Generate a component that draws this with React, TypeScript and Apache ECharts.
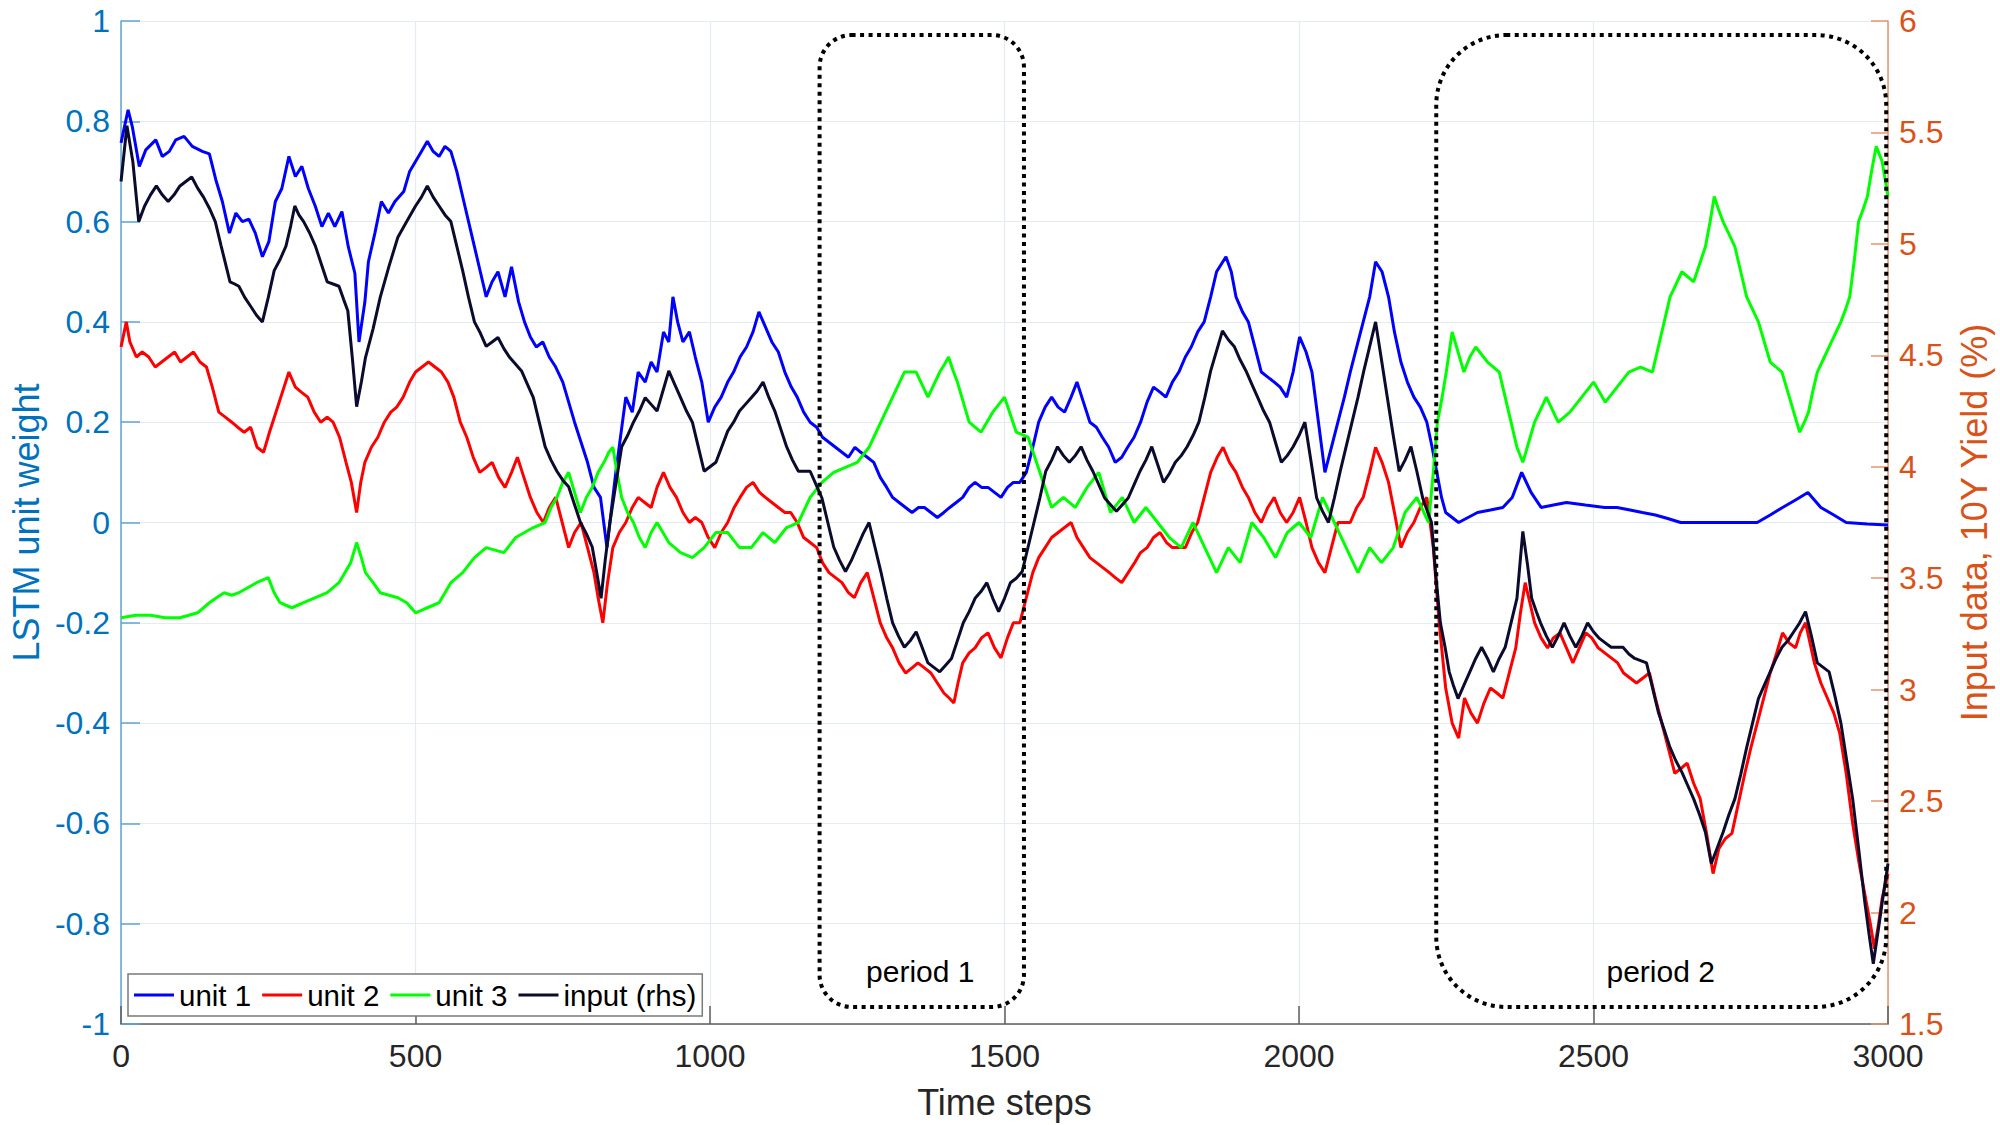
import React, { useEffect, useRef } from "react";
import * as echarts from "echarts";

// Time steps 0..3000 ; x ticks every 500
const xTickInterval = 500;
const leftTickInterval = 0.2;
const rightTickInterval = 0.5;

const seriesNames = ["unit 1", "unit 2", "unit 3", "input (rhs)"];

// unit 1 (left axis) [time, weight]
const unit1: [number, number][] = [
  [0, 0.757], [12, 0.823], [19, 0.79], [31, 0.71], [42, 0.743], [59, 0.763], [70, 0.73], [82, 0.74], [93, 0.763],
  [107, 0.77], [121, 0.75], [138, 0.74], [150, 0.735], [161, 0.683], [172, 0.64], [184, 0.577], [195, 0.617],
  [206, 0.6], [217, 0.605], [228, 0.577], [240, 0.53], [251, 0.56], [262, 0.64], [273, 0.666], [285, 0.73],
  [296, 0.69], [307, 0.71], [318, 0.666], [330, 0.63], [341, 0.59], [352, 0.617], [363, 0.59], [375, 0.62],
  [386, 0.549], [397, 0.497], [404, 0.36], [414, 0.44], [420, 0.52], [431, 0.577], [442, 0.64], [454, 0.617],
  [465, 0.64], [480, 0.66], [490, 0.7], [500, 0.72], [510, 0.74], [520, 0.76], [530, 0.74], [540, 0.73],
  [550, 0.75], [560, 0.74], [570, 0.7], [580, 0.65], [590, 0.6], [600, 0.55], [610, 0.5], [620, 0.45],
  [630, 0.48], [640, 0.5], [652, 0.45], [663, 0.51], [675, 0.44], [685, 0.4], [695, 0.37], [705, 0.35],
  [716, 0.36], [727, 0.33], [738, 0.31], [750, 0.28], [760, 0.24], [770, 0.2], [781, 0.16], [792, 0.12],
  [803, 0.07], [814, 0.05], [825, -0.05], [840, 0.1], [857, 0.25], [868, 0.22], [878, 0.3], [890, 0.28],
  [900, 0.32], [910, 0.3], [921, 0.38], [930, 0.36], [937, 0.45], [945, 0.4], [954, 0.36], [965, 0.38],
  [975, 0.33], [986, 0.28], [997, 0.2], [1008, 0.23], [1019, 0.25], [1030, 0.28], [1040, 0.3], [1051, 0.33],
  [1062, 0.35], [1073, 0.38], [1083, 0.42], [1094, 0.39], [1105, 0.36], [1116, 0.34], [1127, 0.3],
  [1138, 0.27], [1148, 0.25], [1159, 0.22], [1170, 0.2], [1181, 0.19], [1191, 0.17], [1202, 0.16], [1213, 0.15],
  [1224, 0.14], [1235, 0.13], [1246, 0.15], [1256, 0.14], [1267, 0.13], [1278, 0.12], [1289, 0.09], [1300, 0.07],
  [1310, 0.05], [1321, 0.04], [1332, 0.03], [1343, 0.02], [1354, 0.03], [1364, 0.03], [1375, 0.02], [1386, 0.01],
  [1397, 0.02], [1407, 0.03], [1418, 0.04], [1429, 0.05], [1440, 0.07], [1450, 0.08], [1461, 0.07], [1472, 0.07],
  [1483, 0.06], [1494, 0.05], [1505, 0.07], [1515, 0.08], [1526, 0.08], [1537, 0.1], [1548, 0.15], [1558, 0.2],
  [1569, 0.23], [1580, 0.25], [1591, 0.23], [1602, 0.22], [1613, 0.25], [1623, 0.28], [1634, 0.24], [1645, 0.2],
  [1656, 0.19], [1666, 0.17], [1677, 0.15], [1688, 0.12], [1699, 0.13], [1709, 0.15], [1720, 0.17], [1731, 0.2],
  [1742, 0.24], [1753, 0.27], [1764, 0.26], [1774, 0.25], [1785, 0.28], [1796, 0.3], [1807, 0.33], [1817, 0.35],
  [1828, 0.38], [1839, 0.4], [1850, 0.45], [1860, 0.5], [1876, 0.53], [1885, 0.5], [1893, 0.45], [1904, 0.42],
  [1914, 0.4], [1925, 0.35], [1936, 0.3], [1947, 0.29], [1958, 0.28], [1968, 0.27], [1979, 0.25], [1990, 0.3],
  [2001, 0.37], [2012, 0.34], [2022, 0.3], [2033, 0.2], [2044, 0.1], [2055, 0.15], [2066, 0.2], [2077, 0.25],
  [2087, 0.3], [2098, 0.35], [2109, 0.4], [2120, 0.45], [2130, 0.52], [2141, 0.5], [2152, 0.45], [2162, 0.38],
  [2173, 0.32], [2184, 0.28], [2195, 0.25], [2206, 0.23], [2217, 0.2], [2226, 0.15], [2234, 0.1], [2242, 0.05],
  [2249, 0.02], [2260, 0.01], [2271, 0.0], [2287, 0.01], [2303, 0.02], [2325, 0.025], [2346, 0.03], [2362, 0.05],
  [2378, 0.1], [2394, 0.06], [2411, 0.03], [2432, 0.035], [2454, 0.04], [2486, 0.035], [2519, 0.03], [2540, 0.03],
  [2562, 0.025], [2583, 0.02], [2605, 0.015], [2626, 0.008], [2648, 0.0], [2680, 0.0], [2713, 0.0], [2745, 0.0],
  [2778, 0.0], [2800, 0.015], [2821, 0.03], [2843, 0.045], [2864, 0.06], [2875, 0.045], [2886, 0.03], [2908, 0.015],
  [2929, 0.0], [2965, -0.003], [3000, -0.005],
];

// unit 2 (left axis)
const unit2: [number, number][] = [
  [0, 0.35], [9, 0.4], [15, 0.36], [26, 0.33], [36, 0.34], [47, 0.33], [58, 0.31], [69, 0.32], [80, 0.33],
  [91, 0.34], [101, 0.32], [112, 0.33], [123, 0.34], [134, 0.32], [145, 0.31], [155, 0.27], [166, 0.22],
  [177, 0.21], [188, 0.2], [198, 0.19], [209, 0.18], [220, 0.19], [231, 0.15], [242, 0.14], [252, 0.18],
  [263, 0.22], [274, 0.26], [285, 0.3], [296, 0.27], [306, 0.26], [317, 0.25], [328, 0.22], [339, 0.2],
  [350, 0.21], [360, 0.2], [371, 0.17], [382, 0.12], [391, 0.08], [400, 0.02], [407, 0.08], [414, 0.12],
  [425, 0.15], [436, 0.17], [447, 0.2], [458, 0.22], [468, 0.23], [479, 0.25], [490, 0.28], [500, 0.3],
  [511, 0.31], [522, 0.32], [533, 0.31], [544, 0.3], [555, 0.28], [565, 0.25], [576, 0.2], [587, 0.17],
  [598, 0.13], [609, 0.1], [620, 0.11], [630, 0.12], [641, 0.09], [652, 0.07], [663, 0.1], [673, 0.13],
  [684, 0.09], [695, 0.05], [706, 0.02], [717, 0.0], [727, 0.03], [738, 0.05], [749, 0.0], [760, -0.05],
  [770, -0.02], [781, 0.0], [792, -0.05], [803, -0.1], [810, -0.15], [818, -0.2], [826, -0.12], [835, -0.05],
  [846, -0.02], [857, 0.0], [868, 0.03], [878, 0.05], [889, 0.04], [900, 0.03], [910, 0.07], [921, 0.1],
  [932, 0.07], [943, 0.05], [954, 0.02], [965, 0.0], [975, 0.01], [986, 0.0], [997, -0.03], [1008, -0.05],
  [1019, -0.02], [1030, 0.0], [1041, 0.03], [1051, 0.05], [1062, 0.07], [1073, 0.08], [1084, 0.06], [1094, 0.05],
  [1105, 0.04], [1116, 0.03], [1127, 0.02], [1137, 0.02], [1148, 0.0], [1159, -0.03], [1170, -0.04], [1181, -0.05],
  [1191, -0.08], [1202, -0.1], [1213, -0.11], [1224, -0.12], [1235, -0.14], [1245, -0.15], [1256, -0.12],
  [1267, -0.1], [1278, -0.15], [1289, -0.2], [1300, -0.23], [1310, -0.25], [1321, -0.28], [1332, -0.3],
  [1343, -0.29], [1353, -0.28], [1364, -0.29], [1375, -0.3], [1386, -0.32], [1397, -0.34], [1406, -0.35],
  [1414, -0.36], [1421, -0.32], [1429, -0.28], [1440, -0.26], [1450, -0.25], [1461, -0.23], [1472, -0.22],
  [1483, -0.25], [1494, -0.27], [1505, -0.23], [1515, -0.2], [1526, -0.2], [1537, -0.15], [1548, -0.1],
  [1558, -0.07], [1569, -0.05], [1580, -0.03], [1591, -0.02], [1602, -0.01], [1613, 0.0], [1623, -0.03],
  [1634, -0.05], [1645, -0.07], [1656, -0.08], [1667, -0.09], [1678, -0.1], [1688, -0.11], [1699, -0.12],
  [1710, -0.1], [1721, -0.08], [1731, -0.06], [1742, -0.05], [1753, -0.03], [1764, -0.02], [1775, -0.04],
  [1785, -0.05], [1796, -0.05], [1807, -0.05], [1818, -0.02], [1828, 0.0], [1839, 0.05], [1850, 0.1],
  [1861, 0.13], [1871, 0.15], [1882, 0.12], [1893, 0.1], [1904, 0.07], [1914, 0.05], [1925, 0.02], [1936, 0.0],
  [1947, 0.03], [1958, 0.05], [1968, 0.02], [1979, 0.0], [1990, 0.02], [2001, 0.05], [2012, 0.0], [2022, -0.05],
  [2033, -0.08], [2044, -0.1], [2055, -0.05], [2066, 0.0], [2077, 0.0], [2087, 0.0], [2098, 0.03], [2109, 0.05],
  [2120, 0.1], [2130, 0.15], [2141, 0.12], [2152, 0.08], [2162, 0.02], [2173, -0.05], [2184, -0.02], [2195, 0.0],
  [2206, 0.03], [2217, 0.05], [2228, -0.05], [2238, -0.2], [2249, -0.33], [2260, -0.4], [2271, -0.43],
  [2281, -0.35], [2292, -0.38], [2303, -0.4], [2314, -0.36], [2325, -0.33], [2336, -0.34], [2346, -0.35],
  [2357, -0.3], [2368, -0.25], [2376, -0.18], [2384, -0.12], [2392, -0.16], [2400, -0.2], [2411, -0.23],
  [2422, -0.25], [2432, -0.23], [2443, -0.22], [2454, -0.25], [2465, -0.28], [2476, -0.25], [2487, -0.22],
  [2497, -0.23], [2508, -0.25], [2519, -0.26], [2530, -0.27], [2541, -0.28], [2551, -0.3], [2562, -0.31],
  [2573, -0.32], [2584, -0.31], [2595, -0.3], [2605, -0.35], [2616, -0.4], [2627, -0.45], [2638, -0.5],
  [2649, -0.49], [2659, -0.48], [2670, -0.52], [2681, -0.55], [2692, -0.62], [2703, -0.7], [2713, -0.65],
  [2724, -0.63], [2735, -0.62], [2746, -0.56], [2757, -0.5], [2767, -0.45], [2778, -0.4], [2789, -0.35],
  [2800, -0.3], [2811, -0.26], [2821, -0.22], [2832, -0.24], [2843, -0.25], [2851, -0.22], [2860, -0.2],
  [2875, -0.28], [2886, -0.32], [2897, -0.35], [2908, -0.38], [2918, -0.42], [2929, -0.5], [2940, -0.6],
  [2951, -0.68], [2962, -0.75], [2970, -0.8], [2977, -0.85], [2984, -0.8], [2990, -0.75], [3000, -0.7],
];

// unit 3 (left axis)
const unit3: [number, number][] = [
  [0, -0.19], [25, -0.185], [50, -0.185], [75, -0.19], [100, -0.19], [115, -0.185], [130, -0.18], [150, -0.16],
  [162, -0.15], [175, -0.14], [188, -0.145], [200, -0.14], [215, -0.13], [230, -0.12], [250, -0.11], [260, -0.14],
  [270, -0.16], [280, -0.165], [290, -0.17], [300, -0.165], [310, -0.16], [320, -0.155], [330, -0.15],
  [340, -0.145], [350, -0.14], [360, -0.13], [370, -0.12], [380, -0.1], [390, -0.08], [400, -0.04], [408, -0.07],
  [415, -0.1], [428, -0.12], [440, -0.14], [455, -0.145], [470, -0.15], [485, -0.16], [500, -0.18], [510, -0.175],
  [520, -0.17], [530, -0.165], [540, -0.16], [550, -0.14], [560, -0.12], [570, -0.11], [580, -0.1], [590, -0.085],
  [600, -0.07], [610, -0.06], [620, -0.05], [635, -0.055], [650, -0.06], [660, -0.045], [670, -0.03],
  [685, -0.02], [700, -0.01], [710, -0.005], [720, 0.0], [730, 0.03], [740, 0.05], [750, 0.08], [760, 0.1],
  [770, 0.06], [780, 0.02], [790, 0.05], [800, 0.07], [810, 0.1], [820, 0.12], [828, 0.14], [835, 0.15],
  [842, 0.1], [850, 0.05], [860, 0.02], [870, 0.0], [880, -0.03], [890, -0.05], [900, -0.02], [910, 0.0],
  [920, -0.02], [930, -0.04], [940, -0.05], [950, -0.06], [960, -0.065], [970, -0.07], [980, -0.06],
  [990, -0.05], [1000, -0.035], [1010, -0.02], [1020, -0.02], [1030, -0.02], [1040, -0.035], [1050, -0.05],
  [1060, -0.05], [1070, -0.05], [1080, -0.035], [1090, -0.02], [1100, -0.03], [1110, -0.04], [1120, -0.025],
  [1130, -0.01], [1140, -0.005], [1150, 0.0], [1160, 0.025], [1170, 0.05], [1180, 0.065], [1190, 0.08],
  [1200, 0.09], [1210, 0.1], [1220, 0.105], [1230, 0.11], [1240, 0.115], [1250, 0.12], [1260, 0.135],
  [1270, 0.15], [1280, 0.175], [1290, 0.2], [1300, 0.225], [1310, 0.25], [1320, 0.275], [1330, 0.3],
  [1340, 0.3], [1350, 0.3], [1360, 0.275], [1370, 0.25], [1380, 0.275], [1390, 0.3], [1398, 0.315],
  [1405, 0.33], [1412, 0.305], [1420, 0.28], [1430, 0.24], [1440, 0.2], [1450, 0.19], [1460, 0.18],
  [1470, 0.2], [1480, 0.22], [1490, 0.235], [1500, 0.25], [1510, 0.215], [1520, 0.18], [1530, 0.175],
  [1540, 0.17], [1550, 0.135], [1560, 0.1], [1570, 0.065], [1580, 0.03], [1590, 0.04], [1600, 0.05],
  [1610, 0.04], [1620, 0.03], [1630, 0.05], [1640, 0.07], [1650, 0.085], [1660, 0.1], [1670, 0.06],
  [1680, 0.02], [1690, 0.035], [1700, 0.05], [1710, 0.025], [1720, 0.0], [1730, 0.015], [1740, 0.03],
  [1750, 0.015], [1760, 0.0], [1770, -0.015], [1780, -0.03], [1790, -0.04], [1800, -0.05], [1810, -0.025],
  [1820, 0.0], [1830, -0.025], [1840, -0.05], [1850, -0.075], [1860, -0.1], [1870, -0.075], [1880, -0.05],
  [1890, -0.065], [1900, -0.08], [1910, -0.04], [1920, 0.0], [1930, -0.015], [1940, -0.03], [1950, -0.05],
  [1960, -0.07], [1970, -0.045], [1980, -0.02], [1990, -0.01], [2000, 0.0], [2010, -0.015], [2020, -0.03],
  [2030, 0.01], [2040, 0.05], [2050, 0.025], [2060, 0.0], [2070, -0.025], [2080, -0.05], [2090, -0.075],
  [2100, -0.1], [2110, -0.075], [2120, -0.05], [2130, -0.065], [2140, -0.08], [2150, -0.065], [2160, -0.05],
  [2170, -0.015], [2180, 0.02], [2190, 0.035], [2200, 0.05], [2210, 0.025], [2220, 0.0], [2228, 0.1],
  [2235, 0.2], [2243, 0.25], [2250, 0.3], [2260, 0.38], [2270, 0.34], [2280, 0.3], [2290, 0.33], [2300, 0.35],
  [2310, 0.335], [2320, 0.32], [2330, 0.31], [2340, 0.3], [2350, 0.25], [2360, 0.2], [2370, 0.15], [2380, 0.12],
  [2390, 0.16], [2400, 0.2], [2410, 0.225], [2420, 0.25], [2430, 0.225], [2440, 0.2], [2450, 0.21], [2460, 0.22],
  [2470, 0.235], [2480, 0.25], [2490, 0.265], [2500, 0.28], [2510, 0.26], [2520, 0.24], [2530, 0.255],
  [2540, 0.27], [2550, 0.285], [2560, 0.3], [2570, 0.305], [2580, 0.31], [2590, 0.305], [2600, 0.3],
  [2610, 0.35], [2620, 0.4], [2630, 0.45], [2640, 0.475], [2650, 0.5], [2660, 0.49], [2670, 0.48],
  [2680, 0.515], [2690, 0.55], [2698, 0.6], [2705, 0.65], [2712, 0.625], [2720, 0.6], [2730, 0.575],
  [2740, 0.55], [2750, 0.5], [2760, 0.45], [2770, 0.425], [2780, 0.4], [2790, 0.36], [2800, 0.32],
  [2810, 0.31], [2820, 0.3], [2830, 0.26], [2840, 0.22], [2850, 0.18], [2858, 0.2], [2865, 0.22],
  [2872, 0.26], [2880, 0.3], [2890, 0.325], [2900, 0.35], [2910, 0.375], [2920, 0.4], [2928, 0.425],
  [2935, 0.45], [2943, 0.525], [2950, 0.6], [2958, 0.625], [2965, 0.65], [2972, 0.7], [2980, 0.75],
  [2985, 0.735], [2990, 0.72], [2995, 0.685], [3000, 0.65],
];

// input: 10Y yield (%) on right axis
const inputYield: [number, number][] = [
  [0, 5.28], [10, 5.53], [20, 5.37], [30, 5.1], [40, 5.17], [50, 5.22], [60, 5.26], [70, 5.22], [80, 5.19],
  [90, 5.22], [100, 5.26], [110, 5.28], [120, 5.3], [130, 5.25], [140, 5.21], [150, 5.16], [160, 5.1],
  [170, 4.99], [185, 4.83], [193, 4.82], [200, 4.81], [210, 4.76], [220, 4.72], [230, 4.68], [240, 4.65],
  [250, 4.76], [260, 4.88], [270, 4.93], [280, 4.99], [288, 5.08], [295, 5.17], [302, 5.13], [310, 5.1],
  [320, 5.05], [330, 4.99], [340, 4.91], [350, 4.83], [360, 4.82], [370, 4.81], [378, 4.75], [385, 4.7],
  [393, 4.48], [400, 4.27], [408, 4.38], [415, 4.49], [428, 4.62], [440, 4.76], [455, 4.9], [470, 5.03],
  [485, 5.1], [500, 5.17], [510, 5.21], [520, 5.26], [530, 5.21], [540, 5.17], [550, 5.13], [560, 5.1],
  [570, 4.99], [580, 4.88], [590, 4.76], [600, 4.65], [610, 4.6], [620, 4.54], [630, 4.56], [640, 4.58],
  [650, 4.53], [660, 4.49], [670, 4.46], [680, 4.43], [690, 4.37], [700, 4.31], [710, 4.2], [720, 4.09],
  [730, 4.03], [740, 3.98], [750, 3.94], [760, 3.91], [770, 3.83], [780, 3.75], [790, 3.7], [800, 3.64],
  [808, 3.52], [815, 3.41], [822, 3.58], [830, 3.75], [840, 3.92], [850, 4.09], [860, 4.14], [870, 4.2],
  [880, 4.25], [890, 4.31], [900, 4.28], [910, 4.25], [920, 4.34], [930, 4.43], [940, 4.37], [950, 4.31],
  [960, 4.25], [970, 4.2], [980, 4.09], [990, 3.98], [1000, 4.0], [1010, 4.02], [1020, 4.09], [1030, 4.16],
  [1040, 4.2], [1050, 4.25], [1060, 4.28], [1070, 4.31], [1080, 4.34], [1090, 4.38], [1100, 4.31],
  [1110, 4.25], [1120, 4.17], [1130, 4.09], [1140, 4.03], [1150, 3.98], [1160, 3.98], [1170, 3.98],
  [1180, 3.92], [1190, 3.86], [1200, 3.75], [1210, 3.64], [1220, 3.58], [1230, 3.53], [1240, 3.58],
  [1250, 3.64], [1260, 3.7], [1270, 3.75], [1280, 3.64], [1290, 3.53], [1300, 3.41], [1310, 3.3],
  [1320, 3.24], [1330, 3.19], [1340, 3.22], [1350, 3.26], [1360, 3.19], [1370, 3.12], [1380, 3.1],
  [1390, 3.08], [1400, 3.11], [1410, 3.14], [1420, 3.22], [1430, 3.3], [1440, 3.35], [1450, 3.41],
  [1460, 3.44], [1470, 3.48], [1480, 3.41], [1490, 3.35], [1500, 3.41], [1510, 3.48], [1520, 3.5],
  [1530, 3.53], [1540, 3.64], [1550, 3.75], [1560, 3.86], [1570, 3.98], [1580, 4.03], [1590, 4.09],
  [1600, 4.05], [1610, 4.02], [1620, 4.05], [1630, 4.09], [1640, 4.03], [1650, 3.98], [1660, 3.92],
  [1670, 3.86], [1680, 3.83], [1690, 3.8], [1700, 3.83], [1710, 3.86], [1720, 3.92], [1730, 3.98],
  [1740, 4.03], [1750, 4.09], [1760, 4.01], [1770, 3.93], [1780, 3.97], [1790, 4.02], [1800, 4.05],
  [1810, 4.09], [1820, 4.14], [1830, 4.2], [1840, 4.31], [1850, 4.43], [1860, 4.52], [1870, 4.61],
  [1880, 4.57], [1890, 4.54], [1900, 4.48], [1910, 4.43], [1920, 4.37], [1930, 4.31], [1940, 4.25],
  [1950, 4.2], [1960, 4.11], [1970, 4.02], [1980, 4.05], [1990, 4.09], [2000, 4.14], [2010, 4.2],
  [2020, 4.03], [2030, 3.86], [2040, 3.8], [2050, 3.75], [2060, 3.86], [2070, 3.98], [2080, 4.09],
  [2090, 4.2], [2100, 4.31], [2110, 4.43], [2120, 4.54], [2130, 4.65], [2140, 4.48], [2150, 4.31],
  [2160, 4.14], [2170, 3.98], [2180, 4.03], [2190, 4.09], [2200, 3.98], [2210, 3.86], [2218, 3.8],
  [2225, 3.75], [2232, 3.52], [2240, 3.3], [2248, 3.19], [2255, 3.08], [2262, 3.02], [2270, 2.96],
  [2280, 3.02], [2290, 3.08], [2300, 3.14], [2310, 3.19], [2320, 3.14], [2330, 3.08], [2340, 3.14],
  [2350, 3.19], [2360, 3.3], [2370, 3.41], [2375, 3.56], [2380, 3.71], [2388, 3.56], [2395, 3.41],
  [2403, 3.35], [2410, 3.3], [2420, 3.24], [2430, 3.19], [2440, 3.24], [2450, 3.3], [2460, 3.24],
  [2470, 3.19], [2480, 3.24], [2490, 3.3], [2500, 3.26], [2510, 3.23], [2520, 3.21], [2530, 3.19],
  [2540, 3.19], [2550, 3.19], [2560, 3.16], [2570, 3.14], [2580, 3.13], [2590, 3.12], [2600, 3.01],
  [2610, 2.9], [2620, 2.82], [2630, 2.74], [2640, 2.68], [2650, 2.63], [2660, 2.57], [2670, 2.51],
  [2680, 2.44], [2690, 2.36], [2700, 2.22], [2710, 2.29], [2720, 2.36], [2730, 2.44], [2740, 2.51],
  [2750, 2.62], [2760, 2.74], [2770, 2.85], [2780, 2.96], [2790, 3.02], [2800, 3.08], [2810, 3.14],
  [2820, 3.19], [2830, 3.22], [2840, 3.26], [2850, 3.3], [2860, 3.35], [2870, 3.24], [2880, 3.12],
  [2890, 3.1], [2900, 3.08], [2910, 2.97], [2920, 2.85], [2930, 2.68], [2940, 2.51], [2950, 2.29],
  [2960, 2.06], [2968, 1.9], [2975, 1.77], [2980, 1.86], [2985, 1.95], [2992, 2.08], [3000, 2.22],
];

// annotated periods: [start time, end time, bottom weight, top weight]
const periodLabels = ["period 1", "period 2"];
const periodBoxes: [number, number, number, number][] = [
  [1186, 1533, -0.966, 0.972],
  [2233, 2997, -0.966, 0.972],
];
const periodLabelPos: [number, number][] = [
  [1357, -0.896],
  [2614, -0.896],
];
const periodRadius = [32, 70];

const FONT = "'Liberation Sans', Arial, Helvetica, sans-serif";
const LEFT_COLOR = "#0072BD";
const RIGHT_COLOR = "#D95319";
const GRID_COLOR = "#e6ebf1";
const colors = ["#0000FF", "#FF0000", "#00FF00", "#0b0b2e"];

export default function App() {
  const ref = useRef<HTMLDivElement>(null);
  useEffect(() => {
    document.body.style.margin = "0";
    const chart = echarts.init(ref.current!, null, { renderer: "svg" });
    const lineSeries = (name: string, data: [number, number][], color: string, yAxisIndex: number) => ({
      name,
      type: "line",
      data,
      yAxisIndex,
      symbol: "none",
      lineStyle: { color, width: 3 },
      itemStyle: { color },
      z: 3,
    });
    chart.setOption({
      animation: false,
      backgroundColor: "#ffffff",
      textStyle: { fontFamily: FONT },
      grid: { left: 118, right: 107, top: 21, bottom: 100, containLabel: false },
      legend: {
        data: seriesNames,
        left: 128,
        top: 974,
        orient: "horizontal",
        icon: "rect",
        itemWidth: 40,
        itemHeight: 3,
        itemGap: 11,
        padding: [6, 6],
        backgroundColor: "#ffffff",
        borderColor: "#7a7a7a",
        borderWidth: 1.5,
        borderRadius: 0,
        textStyle: { fontSize: 29.5, color: "#000000", fontFamily: FONT },
        z: 10,
      },
      xAxis: {
        type: "value",
        min: 0,
        max: 3000,
        interval: xTickInterval,
        name: "Time steps",
        nameLocation: "middle",
        nameGap: 60,
        nameTextStyle: { fontSize: 36, color: "#262626", fontFamily: FONT },
        axisLine: { show: true, onZero: false, lineStyle: { color: "#5e5e5e", width: 1.5 } },
        axisTick: { show: true, inside: true, length: 18, lineStyle: { color: "#5e5e5e", width: 1.5 } },
        axisLabel: {
          fontSize: 32,
          color: "#262626",
          margin: 16,
          fontFamily: FONT,
          formatter: (v: number) => String(v),
        },
        splitLine: { show: true, lineStyle: { color: GRID_COLOR, width: 1.2 } },
      },
      yAxis: [
        {
          type: "value",
          position: "left",
          min: -1,
          max: 1,
          interval: leftTickInterval,
          name: "LSTM unit weight",
          nameLocation: "middle",
          nameGap: 74,
          nameRotate: 90,
          nameTextStyle: { fontSize: 36, color: LEFT_COLOR, fontFamily: FONT },
          axisLine: { show: true, onZero: false, lineStyle: { color: "#5fa3d6", width: 1.5 } },
          axisTick: { show: true, inside: true, length: 19, lineStyle: { color: "#5fa3d6", width: 1.5 } },
          axisLabel: { fontSize: 32, color: LEFT_COLOR, margin: 11, fontFamily: FONT },
          splitLine: { show: true, lineStyle: { color: GRID_COLOR, width: 1.2 } },
        },
        {
          type: "value",
          position: "right",
          min: 1.5,
          max: 6,
          interval: rightTickInterval,
          name: "Input data, 10Y Yield (%)",
          nameLocation: "middle",
          nameGap: 68,
          nameRotate: 90,
          nameTextStyle: { fontSize: 36, color: RIGHT_COLOR, fontFamily: FONT },
          axisLine: { show: true, onZero: false, lineStyle: { color: "#e6956f", width: 1.5 } },
          axisTick: { show: true, inside: true, length: 17, lineStyle: { color: "#e6956f", width: 1.5 } },
          axisLabel: { fontSize: 32, color: RIGHT_COLOR, margin: 11, fontFamily: FONT },
          splitLine: { show: false },
        },
      ],
      series: [
        lineSeries(seriesNames[0], unit1, colors[0], 0),
        lineSeries(seriesNames[1], unit2, colors[1], 0),
        lineSeries(seriesNames[2], unit3, colors[2], 0),
        lineSeries(seriesNames[3], inputYield, colors[3], 1),
      ],
    });

    const toPx = (p: [number, number]) => chart.convertToPixel({ seriesIndex: 0 }, p) as number[];
    const graphics: any[] = [];
    periodBoxes.forEach((b, i) => {
      const p0 = toPx([b[0], b[3]]);
      const p1 = toPx([b[1], b[2]]);
      graphics.push({
        type: "rect",
        shape: { x: p0[0], y: p0[1], width: p1[0] - p0[0], height: p1[1] - p0[1], r: periodRadius[i] },
        style: { fill: "none", stroke: "#000000", lineWidth: 4, lineDash: [4, 4.5] },
        z: 20,
        silent: true,
      });
      const lp = toPx(periodLabelPos[i]);
      graphics.push({
        type: "text",
        x: lp[0],
        y: lp[1],
        style: {
          text: periodLabels[i],
          fontSize: 30,
          fontFamily: FONT,
          fill: "#000000",
          align: "center",
          verticalAlign: "middle",
        },
        z: 20,
        silent: true,
      });
    });
    chart.setOption({ graphic: graphics });
    return () => chart.dispose();
  }, []);
  return <div ref={ref} style={{ position: "fixed", left: 0, top: 0, width: 2000, height: 1125 }} />;
}
